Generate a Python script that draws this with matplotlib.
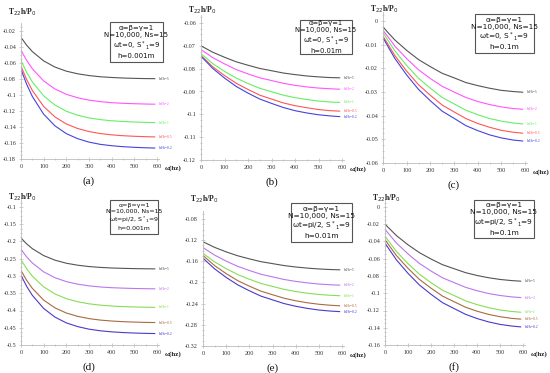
import matplotlib
matplotlib.use("Agg")
import matplotlib.pyplot as plt
from matplotlib.ticker import AutoMinorLocator

# frequency points (hz)
omega = [0, 25, 50, 100, 150, 200, 250, 300, 350, 400, 450, 500, 550, 590]
curve_labels = ["hd/h=5", "hd/h=2", "hd/h=1", "hd/h=0.5", "hd/h=0.2"]

# (a) wt=0, h=0.001m
a_vals = [
    [-0.028, -0.0378, -0.0457, -0.0574, -0.0651, -0.0702, -0.0735, -0.0757, -0.0772, -0.0781, -0.0788, -0.0792, -0.0795, -0.0796],
    [-0.044, -0.0568, -0.0672, -0.0824, -0.0925, -0.0991, -0.1035, -0.1064, -0.1083, -0.1096, -0.1104, -0.1109, -0.1113, -0.1115],
    [-0.057, -0.0717, -0.0836, -0.1011, -0.1126, -0.1203, -0.1253, -0.1286, -0.1308, -0.1322, -0.1331, -0.1338, -0.1342, -0.1345],
    [-0.064, -0.0807, -0.0943, -0.1143, -0.1275, -0.1362, -0.1419, -0.1457, -0.1482, -0.1498, -0.1509, -0.1516, -0.1521, -0.1524],
    [-0.068, -0.0866, -0.1018, -0.1240, -0.1386, -0.1483, -0.1546, -0.1589, -0.1617, -0.1634, -0.1646, -0.1654, -0.1660, -0.1663],
]
# (b) wt=0, h=0.01m
b_vals = [
    [-0.0700, -0.0714, -0.0728, -0.0750, -0.0770, -0.0785, -0.0799, -0.0809, -0.0819, -0.0826, -0.0832, -0.0836, -0.0839, -0.0840],
    [-0.0717, -0.0734, -0.0752, -0.0779, -0.0804, -0.0823, -0.0840, -0.0852, -0.0864, -0.0873, -0.0880, -0.0885, -0.0888, -0.0890],
    [-0.0735, -0.0756, -0.0778, -0.0812, -0.0841, -0.0865, -0.0886, -0.0901, -0.0916, -0.0927, -0.0935, -0.0942, -0.0946, -0.0948],
    [-0.0743, -0.0767, -0.0792, -0.0830, -0.0864, -0.0891, -0.0916, -0.0933, -0.0950, -0.0962, -0.0971, -0.0979, -0.0984, -0.0986],
    [-0.0746, -0.0772, -0.0799, -0.0841, -0.0878, -0.0907, -0.0933, -0.0952, -0.0970, -0.0984, -0.0994, -0.1002, -0.1007, -0.1010],
]
# (c) wt=0, h=0.1m
c_vals = [
    [-0.0025, -0.0053, -0.0080, -0.0124, -0.0163, -0.0193, -0.0221, -0.0240, -0.0260, -0.0273, -0.0284, -0.0293, -0.0298, -0.0301],
    [-0.0039, -0.0072, -0.0106, -0.0159, -0.0206, -0.0243, -0.0276, -0.0300, -0.0323, -0.0340, -0.0353, -0.0363, -0.0370, -0.0373],
    [-0.0049, -0.0088, -0.0126, -0.0188, -0.0242, -0.0284, -0.0323, -0.0350, -0.0377, -0.0396, -0.0412, -0.0423, -0.0431, -0.0435],
    [-0.0064, -0.0105, -0.0146, -0.0212, -0.0269, -0.0314, -0.0355, -0.0384, -0.0412, -0.0433, -0.0449, -0.0462, -0.0470, -0.0474],
    [-0.0071, -0.0115, -0.0158, -0.0228, -0.0289, -0.0337, -0.0381, -0.0411, -0.0442, -0.0463, -0.0481, -0.0494, -0.0503, -0.0507],
]
# (d) wt=pi/2, h=0.001m
d_vals = [
    [-0.190, -0.2069, -0.2207, -0.2408, -0.2542, -0.2630, -0.2687, -0.2726, -0.2751, -0.2768, -0.2778, -0.2786, -0.2791, -0.2794],
    [-0.223, -0.2446, -0.2622, -0.2880, -0.3050, -0.3163, -0.3236, -0.3286, -0.3318, -0.3339, -0.3352, -0.3362, -0.3368, -0.3372],
    [-0.253, -0.2791, -0.3004, -0.3315, -0.3521, -0.3657, -0.3746, -0.3806, -0.3845, -0.3870, -0.3887, -0.3898, -0.3906, -0.3910],
    [-0.284, -0.3126, -0.3358, -0.3699, -0.3924, -0.4073, -0.4170, -0.4235, -0.4278, -0.4305, -0.4324, -0.4336, -0.4345, -0.4349],
    [-0.298, -0.3300, -0.3560, -0.3940, -0.4192, -0.4359, -0.4467, -0.4541, -0.4588, -0.4619, -0.4639, -0.4653, -0.4663, -0.4668],
]
# (e) wt=pi/2, h=0.01m
e_vals = [
    [-0.123, -0.1283, -0.1336, -0.1421, -0.1495, -0.1553, -0.1606, -0.1643, -0.1680, -0.1707, -0.1728, -0.1744, -0.1755, -0.1760],
    [-0.134, -0.1411, -0.1482, -0.1596, -0.1695, -0.1773, -0.1844, -0.1894, -0.1943, -0.1979, -0.2007, -0.2029, -0.2043, -0.2050],
    [-0.145, -0.1530, -0.1610, -0.1738, -0.1850, -0.1938, -0.2018, -0.2074, -0.2130, -0.2170, -0.2202, -0.2226, -0.2242, -0.2250],
    [-0.149, -0.1585, -0.1680, -0.1832, -0.1965, -0.2069, -0.2164, -0.2231, -0.2297, -0.2345, -0.2383, -0.2411, -0.2430, -0.2440],
    [-0.154, -0.1641, -0.1742, -0.1904, -0.2045, -0.2156, -0.2257, -0.2328, -0.2398, -0.2449, -0.2489, -0.2520, -0.2540, -0.2550],
]
# (f) wt=pi/2, h=0.1m
f_vals = [
    [-0.020, -0.0266, -0.0332, -0.0438, -0.0530, -0.0603, -0.0669, -0.0715, -0.0761, -0.0794, -0.0820, -0.0840, -0.0853, -0.0860],
    [-0.026, -0.0339, -0.0418, -0.0544, -0.0655, -0.0742, -0.0821, -0.0876, -0.0931, -0.0971, -0.1003, -0.1026, -0.1042, -0.1050],
    [-0.034, -0.0428, -0.0516, -0.0657, -0.0780, -0.0877, -0.0965, -0.1026, -0.1088, -0.1132, -0.1167, -0.1194, -0.1211, -0.1220],
    [-0.038, -0.0472, -0.0564, -0.0711, -0.0840, -0.0941, -0.1033, -0.1098, -0.1162, -0.1208, -0.1245, -0.1272, -0.1291, -0.1300],
    [-0.042, -0.0517, -0.0614, -0.0769, -0.0905, -0.1012, -0.1109, -0.1177, -0.1244, -0.1293, -0.1332, -0.1361, -0.1380, -0.1390],
]

top_colors = ["#555555", "#ff55ff", "#66ee66", "#ff5555", "#4444dd"]
bot_colors = ["#555555", "#bb77ee", "#88dd55", "#aa6a40", "#4a3acc"]

W, H = 550, 373

# panel: data, colors, y ticks, caption, box text,
# pixel placement (x0, x600, y_top_tick, y_bot_tick, ylabel_y), box (x, y, w, h, fontsize)
panels = [
    (a_vals, top_colors, [-0.02, -0.04, -0.06, -0.08, -0.1, -0.12, -0.14, -0.16, -0.18],
     "(a)", "α=β=γ=1\nN=10,000, Ns=15\nωt=0, S$^*$$_1$=9\nh=0.001m",
     (21, 157, 31, 159, 12), (110, 22, 53, 40, 5)),
    (b_vals, top_colors, [-0.06, -0.07, -0.08, -0.09, -0.1, -0.11, -0.12],
     "(b)", "α=β=γ=1\nN=10,000, Ns=15\nωt=0, S$^*$$_1$=9\nh=0.01m",
     (201, 342, 23, 160, 10), (300, 20, 52, 34, 4.9)),
    (c_vals, top_colors, [0, -0.01, -0.02, -0.03, -0.04, -0.05, -0.06],
     "(c)", "α=β=γ=1\nN=10,000, Ns=15\nωt=0, S$^*$$_1$=9\nh=0.1m",
     (383, 525, 21, 163, 9), (475, 14, 59, 39, 5.3)),
    (d_vals, bot_colors, [-0.1, -0.15, -0.2, -0.25, -0.3, -0.35, -0.4, -0.45, -0.5],
     "(d)", "α=β=γ=1\nN=10,000, Ns=15\nωt=pi/2, S$^*$$_1$=9\nh=0.001m",
     (21, 157, 207, 345, 197), (110, 200, 48, 34, 4.5)),
    (e_vals, bot_colors, [-0.08, -0.12, -0.16, -0.2, -0.24, -0.28, -0.32],
     "(e)", "α=β=γ=1\nN=10,000, Ns=15\nωt=pi/2, S$^*$$_1$=9\nh=0.01m",
     (203, 342, 219, 346, 199), (291, 203, 61, 39, 5.3)),
    (f_vals, bot_colors, [0, -0.02, -0.04, -0.06, -0.08, -0.1, -0.12, -0.14, -0.16],
     "(f)", "α=β=γ=1\nN=10,000, Ns=15\nωt=pi/2, S$^*$$_1$=9\nh=0.1m",
     (385, 523, 207, 345, 198), (474, 200, 60, 38, 5.3)),
]

fig = plt.figure(figsize=(5.5, 3.73), dpi=100)
serif = "Liberation Serif"

for vals, colors, yticks, cap, boxtxt, (x0, x6, yt, yb, ylab_y), (bx, by, bw, bh, bfs) in panels:
    ytop, ybot = yticks[0], yticks[-1]
    pad = 0.06 * (ytop - ybot)
    ppy = (yb - yt) / (ytop - ybot)
    ax_top_px = yt - pad * ppy
    xmax = 610
    width_px = (x6 - x0) * xmax / 600
    ax = fig.add_axes([x0 / W, 1 - yb / H, width_px / W, (yb - ax_top_px) / H])
    ax.set_xlim(0, xmax)
    ax.set_ylim(ybot, ytop + pad)
    for ys, col, lab in zip(vals, colors, curve_labels):
        ax.plot(omega, ys, color=col, lw=0.8)
        ax.text(605, ys[-1], lab, color=col, fontsize=2.8, family=serif,
                va="center", ha="left", clip_on=False)
    ax.set_xticks([0, 100, 200, 300, 400, 500, 600])
    ax.set_yticks(yticks)
    ax.set_yticklabels([("%g" % t) for t in yticks])
    ax.xaxis.set_minor_locator(AutoMinorLocator(2))
    ax.yaxis.set_minor_locator(AutoMinorLocator(4))
    for s in ["top", "right"]:
        ax.spines[s].set_visible(False)
    for s in ["left", "bottom"]:
        ax.spines[s].set_color("#bbbbbb")
        ax.spines[s].set_linewidth(0.6)
    ax.tick_params(which="both", direction="inout", colors="#bbbbbb", width=0.5,
                   labelcolor="#333333", labelsize=4.4, pad=2)
    ax.tick_params(which="major", length=3)
    ax.tick_params(which="minor", length=1.5)
    for lbl in ax.get_xticklabels() + ax.get_yticklabels():
        lbl.set_family(serif)
    ax.patch.set_visible(False)

    # y label at top left, x label at right end
    fig.text((x0 - 13) / W, 1 - ylab_y / H, "T$_{22}$h/P$_0$",
             fontsize=5.5, family=serif, fontweight="bold", ha="left", va="center",
             color="#222222")
    fig.text((x6 + 8) / W, 1 - (yb + 9) / H, "ω(hz)", fontsize=5, family=serif,
             fontweight="bold", ha="left", va="center", color="#222222")
    fig.text((x0 + x6) / 2 / W, 1 - (yb + 22) / H, cap, fontsize=8, family=serif,
             ha="center", va="center", color="#111111")

    # parameter box
    fig.patches.append(plt.Rectangle((bx / W, 1 - (by + bh) / H), bw / W, bh / H,
                                     transform=fig.transFigure, fill=False,
                                     edgecolor="#555555", lw=0.8))
    fig.text((bx + bw / 2) / W, 1 - (by + bh / 2) / H, boxtxt, fontsize=bfs,
             family="DejaVu Sans", ha="center", va="center", linespacing=1.15,
             color="#111111")

fig.savefig("out.png", dpi=100)
